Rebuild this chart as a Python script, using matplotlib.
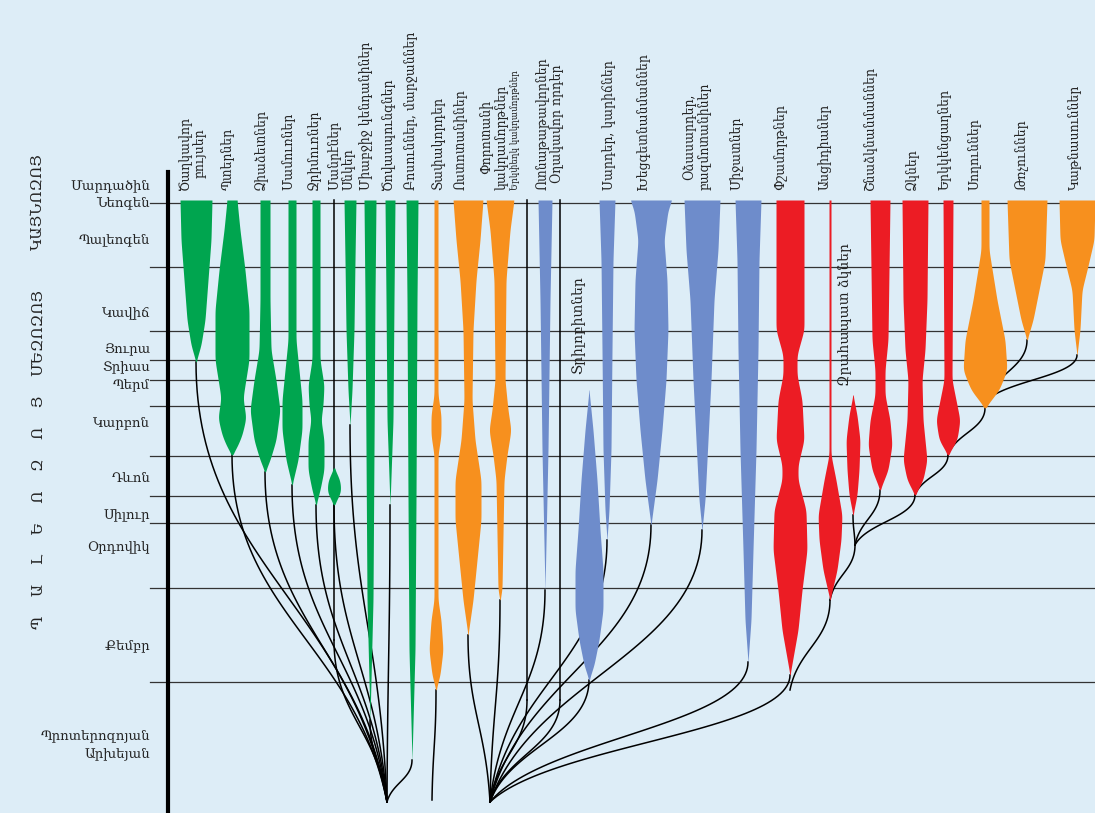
import numpy as np
import matplotlib.pyplot as plt

plt.rcParams['font.family'] = ['DejaVu Serif', 'DejaVu Sans']

BG = '#ddedf7'
GREEN = '#00a54f'
ORANGE = '#f7901e'
BLUE = '#6e8ccb'
RED = '#ec1c24'
INK = '#222222'

# geological scale, y in picture rows (top = today)
period_names = ['Մարդածին', 'Նեոգեն', 'Պալեոգեն', 'Կավիճ', 'Յուրա', 'Տրիաս',
                'Պերմ', 'Կարբոն', 'Դևոն', 'Սիլուր', 'Օրդովիկ', 'Քեմբր',
                'Պրոտերոզոյան\nԱրխեյան']
period_y = [186, 204, 240, 313, 350, 368, 385, 423, 478, 516, 548, 646, 745]
boundaries = [203, 267, 331, 360, 380, 406, 456, 496, 523, 588, 682]

era_names = ['ԿԱՅՆՈԶՈՅ', 'ՄԵԶՈԶՈՅ', 'Պ    Ա    Լ    Ե    Ո    Զ    Ո    Յ']
era_y = [202, 332, 512]

# groups: label, label x, spindle x, colour, profile [(y, half width)]
labels = ['Ծաղկավոր\nբույսեր', 'Պտերներ', 'Ձիաձետներ', 'Մամուռներ', 'Ջրիմուռներ',
          'Մանրէներ', 'Սնկեր', 'Միաբջիջ կենդանիներ', 'Ծովասպունգներ',
          'Բոսուններ, մարջաններ', 'Տափակորդեր', 'Ոստոտանիներ',
          'Փորոտանի\nկակղամորթներ', 'Երկփեղկ կակղամորթներ',
          'Ոտնաթաթավորներ\nՕղակավոր որդեր', 'Սարդեր, կարիճներ',
          'Խեցգետնանմաններ', 'Օձասարդեր,\nբազմոտանիներ', 'Միջատներ',
          'Փշամորթներ', 'Ասցիդիաներ', 'Շնաձկնանմաններ', 'Ձկներ',
          'Երկկենցաղներ', 'Սողուններ', 'Թռչուններ', 'Կաթնասուններ']
label_x = [192, 228, 261, 288, 314, 335, 349, 366, 388, 411, 438, 461, 494, 515,
           550, 609, 643, 697, 737, 780, 825, 870, 912, 945, 975, 1022, 1075]

spine_x = [196, 232, 265, 292, 316, 334, 350, 370, 390, 412, 436, 468, 500, 527,
           545, 560, 607, 651, 702, 748, 790, 830, 880, 915, 948, 985, 1027, 1077]
colors = [GREEN] * 5 + ['k'] + [GREEN] * 4 + [ORANGE] * 3 + ['k', BLUE, 'k'] + \
         [BLUE] * 4 + [RED] * 5 + [ORANGE] * 3
profiles = [
    [(200, 16), (240, 15), (280, 12), (320, 9), (345, 5), (362, 0)],
    [(200, 5), (230, 8), (270, 13), (310, 17), (360, 17), (385, 13), (398, 11),
     (418, 14), (435, 10), (447, 5), (455, 0)],
    [(200, 5), (300, 5), (350, 6), (380, 11), (410, 15), (440, 11), (460, 5), (472, 0)],
    [(200, 4), (340, 4), (370, 7), (400, 10), (430, 10), (460, 6), (485, 0)],
    [(200, 4), (360, 4), (385, 8), (405, 7), (420, 5), (440, 8), (470, 8), (490, 4), (505, 0)],
    [(200, 0), (640, 0)],
    [(200, 6), (260, 5), (330, 4), (390, 2), (425, 0)],
    [(200, 6), (300, 5), (450, 4), (600, 3), (720, 0)],
    [(200, 5), (300, 4), (420, 3), (505, 0)],
    [(200, 6), (300, 5), (500, 4), (650, 3), (760, 0)],
    [(200, 2), (395, 2), (415, 5), (435, 5), (455, 2), (600, 2), (620, 5),
     (650, 7), (675, 4), (690, 0)],
    [(200, 15), (240, 12), (280, 8), (330, 5), (400, 4), (440, 7), (480, 13),
     (520, 13), (560, 9), (600, 5), (635, 0)],
    [(200, 14), (230, 10), (280, 6), (380, 5), (410, 8), (430, 11), (455, 7),
     (480, 4), (590, 2), (600, 0)],
    [(200, 0), (700, 0)],
    [(200, 7), (300, 5), (450, 3), (590, 0)],
    [(200, 0), (700, 0)],
    [(200, 8), (260, 6), (350, 5), (450, 4), (510, 2), (540, 0)],
    [(200, 21), (210, 17), (240, 13), (280, 16), (330, 17), (380, 15), (430, 11),
     (480, 6), (525, 0)],
    [(200, 18), (250, 16), (300, 12), (380, 9), (440, 6), (500, 3), (530, 0)],
    [(200, 13), (260, 11), (350, 10), (450, 8), (550, 5), (620, 3), (662, 0)],
    [(200, 14), (330, 14), (355, 7), (375, 7), (400, 12), (440, 14), (465, 8),
     (480, 8), (510, 16), (550, 17), (590, 12), (630, 8), (675, 0)],
    [(200, 1), (455, 1), (480, 6), (515, 12), (540, 11), (570, 7), (600, 0)],
    [(200, 10), (340, 8), (370, 5), (395, 5), (420, 10), (445, 12), (470, 8), (490, 0)],
    [(200, 13), (300, 12), (350, 10), (380, 7), (420, 8), (460, 12), (480, 8), (495, 0)],
    [(200, 5), (380, 4), (400, 8), (420, 12), (440, 9), (455, 0)],
    [(200, 4), (250, 4), (300, 12), (340, 20), (370, 22), (390, 14), (408, 0)],
    [(200, 20), (260, 18), (290, 12), (320, 6), (340, 0)],
    [(200, 18), (240, 17), (270, 10), (290, 5), (330, 3), (355, 0)],
]
# where each group's line joins the tree
root_plants = (387, 802)
root_animals = (490, 802)
parents = [root_plants] * 10 + [(432, 800)] + [root_animals] * 10 + \
          [(790, 690), (855, 545), (855, 545), (915, 495),
           (948, 455), (985, 402), (985, 402)]

# spindles without a name on top: x, colour, profile, parent
extra_x = [334, 589, 853]
extra_colors = [GREEN, BLUE, RED]
extra_profiles = [[(468, 0), (480, 6), (492, 7), (505, 0)],
                  [(390, 0), (430, 4), (480, 8), (530, 11), (570, 14), (610, 14),
                   (640, 10), (665, 5), (680, 0)],
                  [(395, 0), (415, 4), (440, 7), (470, 6), (495, 4), (515, 0)]]
extra_parents = [root_plants, root_animals, (855, 545)]
node_links = [((855, 545), (830, 600))]


def bezier(p0, p3, n=60):
    x0, y0 = p0
    x1, y1 = p3
    dy = y1 - y0
    p1 = (x0, y0 + 0.45 * dy)
    p2 = (x1 + 0.2 * (x0 - x1), y1 - 0.45 * dy)
    t = np.linspace(0, 1, n)[:, None]
    pts = ((1 - t) ** 3 * np.array(p0) + 3 * (1 - t) ** 2 * t * np.array(p1)
           + 3 * (1 - t) * t ** 2 * np.array(p2) + t ** 3 * np.array(p3))
    return pts[:, 0], pts[:, 1]


def rounded(ys, hw, sigma=4.0):
    # soften the corners of the outline (drawing only)
    yy = np.arange(ys[0], ys[-1] + 0.5, 1.0)
    ww = np.interp(yy, ys, hw)
    k = np.arange(-3 * sigma, 3 * sigma + 1)
    g = np.exp(-0.5 * (k / sigma) ** 2)
    g /= g.sum()
    pad = len(k) // 2
    top = np.full(pad, ww[0])
    bot = np.zeros(pad)
    ws = np.convolve(np.concatenate([top, ww, bot]), g, mode='same')[pad:-pad]
    ws[-1] = 0 if hw[-1] == 0 else ws[-1]
    return yy, ws


def spindle(ax, x, color, prof):
    ys = np.array([p[0] for p in prof], float)
    hw = np.array([p[1] for p in prof], float)
    if color == 'k':
        ax.plot([x, x], [ys[0], ys[-1]], color='k', lw=1.1, zorder=3)
        return
    sy, sw = rounded(ys, hw)
    ax.fill_betweenx(sy, x - sw, x + sw, color=color, lw=0, zorder=3)
    if hw.max() <= 1.5:
        ax.plot([x, x], [ys[0], ys[-1]], color=color, lw=1.2, zorder=3)


fig = plt.figure(figsize=(10.95, 8.13), dpi=100)
fig.patch.set_facecolor(BG)
ax = fig.add_axes([0, 0, 1, 1])
ax.set_facecolor(BG)
ax.set_xlim(0, 1095)
ax.set_ylim(813, 0)
ax.axis('off')

# time axis and period lines
ax.plot([168, 168], [172, 813], color='k', lw=3, zorder=4)
for b in boundaries:
    ax.plot([150, 1095], [b, b], color='#333333', lw=0.9, zorder=1)
for name, y in zip(period_names, period_y):
    ax.text(150, y, name, ha='right', va='center', fontsize=9.5, color=INK,
            linespacing=1.5)
for name, y in zip(era_names, era_y):
    ax.text(38, y, name, ha='center', va='center', rotation=90, fontsize=11,
            color=INK)

# spindles and branch lines
for x, c, prof, par in zip(spine_x, colors, profiles, parents):
    spindle(ax, x, c, prof)
    bx, by = bezier((x, prof[-1][0]), par)
    ax.plot(bx, by, color='k', lw=1.1, zorder=2)
for x, c, prof, par in zip(extra_x, extra_colors, extra_profiles, extra_parents):
    spindle(ax, x, c, prof)
    bx, by = bezier((x, prof[-1][0]), par)
    ax.plot(bx, by, color='k', lw=1.1, zorder=2)
for a, b in node_links:
    bx, by = bezier(a, b)
    ax.plot(bx, by, color='k', lw=1.1, zorder=2)

# group names
for name, x in zip(labels, label_x):
    fs = 7 if name == 'Երկփեղկ կակղամորթներ' else 10
    ax.text(x, 190, name, rotation=90, ha='center', va='bottom', fontsize=fs,
            color=INK, fontstretch='condensed', linespacing=1.1)
ax.text(578, 325, 'Տրիլոբիտներ', rotation=90, ha='center', va='center',
        fontsize=10, color=INK)
ax.text(845, 315, 'Զրահապատ ձկներ', rotation=90, ha='center', va='center',
        fontsize=10, color=INK)

fig.savefig('out.png', dpi=100, facecolor=BG)
